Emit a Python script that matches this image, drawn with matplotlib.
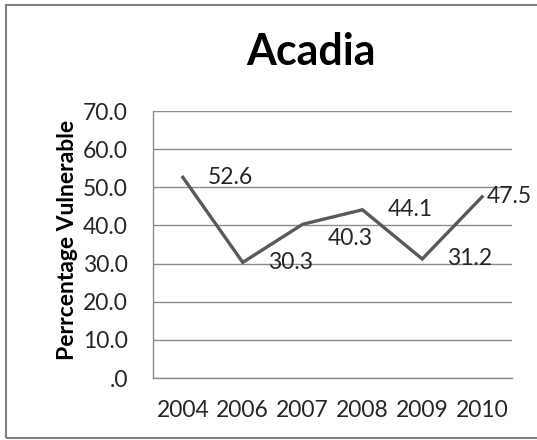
import matplotlib
matplotlib.use("Agg")
import matplotlib.pyplot as plt
from matplotlib.patches import Rectangle
from matplotlib.ticker import FuncFormatter

# data
years = ["2004", "2006", "2007", "2008", "2009", "2010"]
vulnerable = [52.6, 30.3, 40.3, 44.1, 31.2, 47.5]
yticks = [0, 10, 20, 30, 40, 50, 60, 70]

plt.rcParams['font.family'] = ['Lato', 'DejaVu Sans']

W, H = 537, 440
fig = plt.figure(figsize=(W / 100, H / 100), dpi=100)
ax = fig.add_axes([153 / W, 1 - 378 / H, (512 - 153) / W, (378 - 111) / H])

x = list(range(len(years)))
ax.plot(x, vulnerable, color='#595959', lw=2.4, solid_joinstyle='miter', zorder=3)

# data labels to the right of each point (Excel nudged a couple of them)
offsets = [(18, 0), (18, 0), (18, -10), (18, 0), (18, 0), (3, 0)]
for i, v in enumerate(vulnerable):
    ax.annotate(f"{v:.1f}", (i, v), xytext=offsets[i], textcoords='offset points',
                ha='left', va='center', fontsize=16.5, color='#262626', zorder=4)

ax.set_xlim(-0.5, len(years) - 0.5)
ax.set_ylim(0, 70)
ax.set_xticks(x)
ax.set_xticklabels(years)
ax.set_yticks(yticks)
ax.yaxis.set_major_formatter(FuncFormatter(lambda v, p: f"{v:.1f}".lstrip("0") if v == 0 else f"{v:.1f}"))
ax.tick_params(axis='both', length=0, labelsize=16.5, colors='#262626')
ax.tick_params(axis='y', pad=18)
ax.tick_params(axis='x', pad=16)

ax.grid(axis='y', color='#8c8c8c', lw=1.0)
ax.set_axisbelow(True)
for s in ['top', 'right']:
    ax.spines[s].set_visible(False)
for s in ['left', 'bottom']:
    ax.spines[s].set_color('#8c8c8c')
    ax.spines[s].set_linewidth(1.0)

fig.text(311 / W, 1 - 52 / H, "Acadia", ha='center', va='center',
         fontsize=31, fontweight='bold', color='black')
fig.text(67 / W, 1 - 240 / H, "Perrcentage Vulnerable", rotation=90,
         ha='center', va='center', fontsize=16.5, fontweight='bold', color='black')

# chart border (right side runs off the image)
fig.patches.append(Rectangle((6 / W, 1 - 438 / H), 1.2, (438 - 5) / H,
                             transform=fig.transFigure, fill=False,
                             edgecolor='#808080', lw=1.5))

fig.savefig("out.png", dpi=100)
